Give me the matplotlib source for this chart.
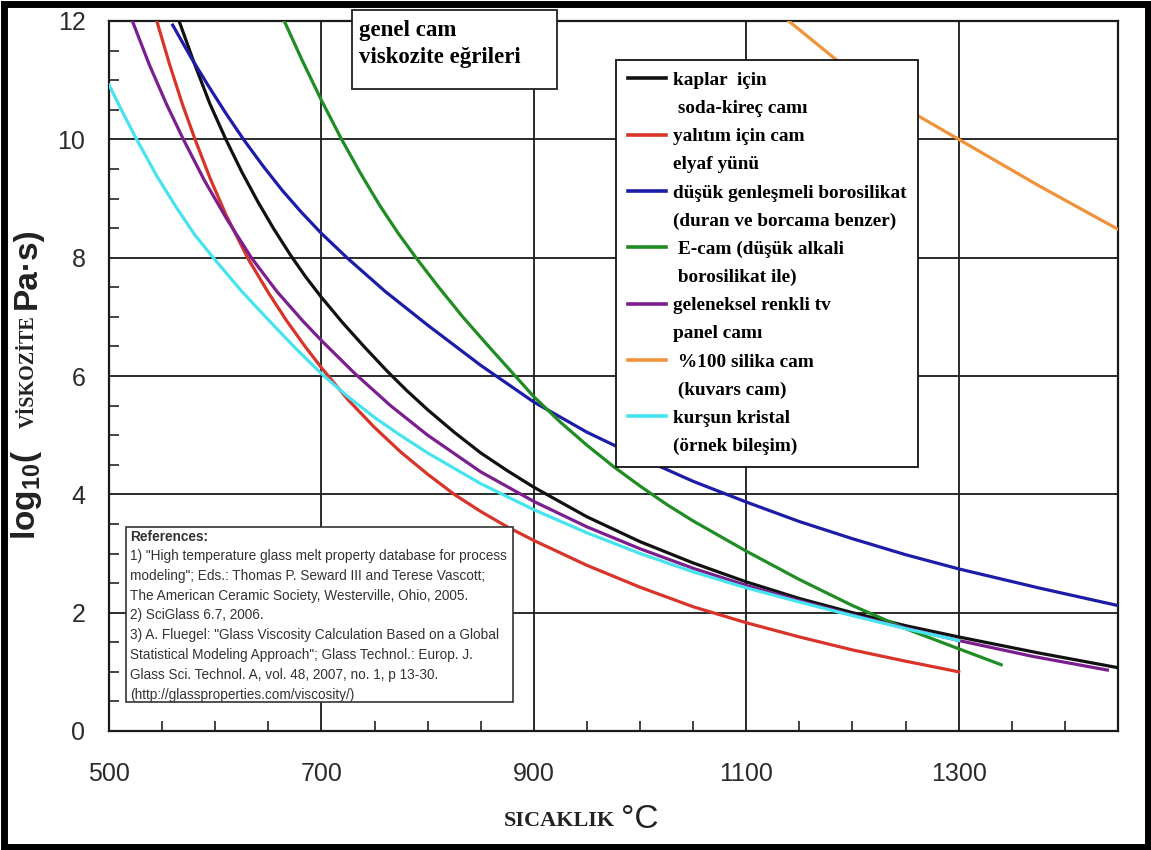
import matplotlib
matplotlib.use('Agg')
import matplotlib.pyplot as plt
from matplotlib.patches import Rectangle
from matplotlib.lines import Line2D
from matplotlib.ticker import MultipleLocator

plt.rcParams['font.family'] = ['Liberation Sans', 'DejaVu Sans']
plt.rcParams['mathtext.fontset'] = 'custom'
plt.rcParams['mathtext.rm'] = 'Liberation Sans'
plt.rcParams['mathtext.bf'] = 'Liberation Sans:bold'

# okunan eğri değerleri (sıcaklık °C, log10 viskozite)
soda_x = [566, 580, 595, 610, 625, 640, 655, 671, 685, 700, 720, 740, 762, 780, 800, 825, 850, 875, 900,
          950, 1000, 1050, 1100, 1150, 1200, 1250, 1300, 1375, 1450]
soda_y = [12.0, 11.3, 10.6, 10.0, 9.45, 8.95, 8.49, 8.04, 7.68, 7.33, 6.9, 6.5, 6.08, 5.76, 5.43, 5.05, 4.7, 4.4, 4.12,
          3.62, 3.2, 2.84, 2.52, 2.24, 2.0, 1.78, 1.59, 1.32, 1.07]

yun_x = [545, 557, 569, 581, 595, 610, 631, 650, 667, 685, 700, 725, 750, 775, 800, 825, 850, 875, 900,
         950, 1000, 1050, 1100, 1150, 1200, 1250, 1300]
yun_y = [12.0, 11.27, 10.6, 10.0, 9.35, 8.73, 7.98, 7.41, 6.94, 6.49, 6.14, 5.6, 5.13, 4.71, 4.34, 4.0, 3.71, 3.45, 3.22,
         2.8, 2.43, 2.1, 1.83, 1.59, 1.37, 1.18, 1.0]

boro_x = [560, 577, 593, 610, 627, 645, 663, 681, 700, 724, 760, 800, 850, 900, 950, 1000, 1050, 1100,
          1150, 1200, 1250, 1300, 1375, 1450]
boro_y = [11.93, 11.39, 10.92, 10.44, 9.99, 9.55, 9.14, 8.77, 8.41, 8.0, 7.43, 6.86, 6.18, 5.56, 5.05, 4.62, 4.22, 3.87,
          3.54, 3.25, 2.98, 2.74, 2.42, 2.12]

ecam_x = [665, 682, 700, 719, 737, 755, 772, 789, 810, 833, 856, 880, 900, 925, 950, 975, 1000, 1025, 1050,
          1100, 1150, 1200, 1250, 1300, 1340]
ecam_y = [12.0, 11.33, 10.66, 10.0, 9.42, 8.88, 8.42, 8.0, 7.51, 7.0, 6.53, 6.05, 5.65, 5.22, 4.83, 4.47, 4.14, 3.83, 3.55,
          3.04, 2.56, 2.12, 1.73, 1.39, 1.12]

tv_x = [522, 538, 554, 570, 590, 611, 634, 658, 683, 700, 731, 765, 800, 850, 900, 950, 1000, 1050, 1100,
        1150, 1200, 1250, 1300, 1370, 1440]
tv_y = [12.0, 11.26, 10.6, 10.0, 9.3, 8.65, 8.0, 7.43, 6.92, 6.6, 6.05, 5.5, 5.0, 4.38, 3.88, 3.45, 3.08, 2.75, 2.46,
        2.2, 1.96, 1.74, 1.53, 1.26, 1.03]

silika_x = [1140, 1200, 1250, 1300, 1375, 1450]
silika_y = [12.0, 11.12, 10.52, 10.0, 9.22, 8.48]

kristal_x = [500, 513, 526, 545, 563, 581, 600, 625, 650, 675, 700, 725, 750, 775, 800, 850, 900, 950, 1000,
             1050, 1100, 1150, 1200, 1250, 1300]
kristal_y = [10.92, 10.45, 10.0, 9.38, 8.86, 8.38, 7.96, 7.43, 6.95, 6.48, 6.04, 5.65, 5.3, 4.99, 4.7, 4.18, 3.74, 3.35,
             3.0, 2.69, 2.42, 2.18, 1.95, 1.73, 1.53]

labels_1 = ['kaplar  için', 'yalıtım için cam', 'düşük genleşmeli borosilikat', ' E-cam (düşük alkali',
            'geleneksel renkli tv', ' %100 silika cam', 'kurşun kristal']
labels_2 = [' soda-kireç camı', 'elyaf yünü', '(duran ve borcama benzer)', ' borosilikat ile)',
            'panel camı', ' (kuvars cam)', '(örnek bileşim)']
colors = ['#111111', '#d8342a', '#1c1ca8', '#1f8c24', '#7b1f8e', '#f0923a', '#47e3ef']

x_ticks = [500, 700, 900, 1100, 1300]
y_ticks = [0, 2, 4, 6, 8, 10, 12]

refs = ('1) "High temperature glass melt property database for process\n'
        'modeling"; Eds.: Thomas P. Seward III and Terese Vascott;\n'
        'The American Ceramic Society, Westerville, Ohio, 2005.\n'
        '2) SciGlass 6.7, 2006.\n'
        '3) A. Fluegel: "Glass Viscosity Calculation Based on a Global\n'
        'Statistical Modeling Approach"; Glass Technol.: Europ. J.\n'
        'Glass Sci. Technol. A, vol. 48, 2007, no. 1, p 13-30.\n'
        '(http://glassproperties.com/viscosity/)')

W, H = 1151, 850
fig = plt.figure(figsize=(W / 100, H / 100), dpi=100)
ax = fig.add_axes([109 / W, 1 - 731 / H, 1009 / W, 710 / H])

series = [(soda_x, soda_y), (yun_x, yun_y), (boro_x, boro_y), (ecam_x, ecam_y),
          (tv_x, tv_y), (silika_x, silika_y), (kristal_x, kristal_y)]
for (xs, ys), c in zip(series, colors):
    ax.plot(xs, ys, color=c, lw=2.3, solid_joinstyle='round', zorder=3)

ax.set_xlim(500, 1450)
ax.set_ylim(0, 12)
ax.set_xticks(x_ticks)
ax.set_yticks(y_ticks)
ax.xaxis.set_minor_locator(MultipleLocator(50))
ax.yaxis.set_minor_locator(MultipleLocator(0.5))
ax.tick_params(which='major', length=0, labelsize=18, labelcolor='#2b2b2b')
ax.tick_params(axis='x', which='major', pad=22)
ax.tick_params(axis='y', which='major', pad=17)
ax.tick_params(which='minor', direction='in', length=7, width=1.2, color='#222')
ax.grid(True, which='major', color='#1a1a1a', lw=1.3, zorder=1)
ax.set_axisbelow(True)
for s in ax.spines.values():
    s.set_linewidth(1.6)
    s.set_color('#1a1a1a')

# lejant: her girdinin ilk satırında çizgi
handles, labels = [], []
for c, l1, l2 in zip(colors, labels_1, labels_2):
    handles.append(Line2D([], [], color=c, lw=2.6))
    labels.append(l1)
    handles.append(Line2D([], [], color='none'))
    labels.append(l2)
leg = ax.legend(handles, labels, loc='upper left',
                bbox_to_anchor=((616 - 109) / 1009, (731 - 60) / 710),
                prop={'family': 'Liberation Serif', 'weight': 'bold', 'size': 13.9},
                handlelength=2.0, handletextpad=0.35, labelspacing=0.55,
                borderpad=0.6, borderaxespad=0, fancybox=False,
                edgecolor='#111', framealpha=1)
leg.get_frame().set_linewidth(1.3)
leg.set_zorder(5)

# başlık kutusu
fig.add_artist(Rectangle((352 / W, 1 - 89 / H), 205 / W, 79 / H, transform=fig.transFigure,
                         facecolor='white', edgecolor='#222', lw=1.3, zorder=4))
fig.text(359 / W, 1 - 36 / H, 'genel cam', family='Liberation Serif', weight='bold',
         size=16.5, va='baseline', zorder=5)
fig.text(359 / W, 1 - 63 / H, 'viskozite eğrileri', family='Liberation Serif', weight='bold',
         size=16.5, va='baseline', zorder=5)

# kaynaklar kutusu
fig.add_artist(Rectangle((126 / W, 1 - 702 / H), 387 / W, 175 / H, transform=fig.transFigure,
                         facecolor='white', edgecolor='#333', lw=1.2, zorder=4))
fig.text(130 / W, 1 - 530 / H, 'References:', weight='bold', size=9.8, color='#333',
         va='top', zorder=5)
fig.text(130 / W, 1 - 549 / H, refs, size=9.8, color='#333', va='top',
         linespacing=1.53, zorder=5)

# eksen etiketleri
fig.text(27 / W, 1 - 495 / H, r'log$_{\mathbf{10}}$(', weight='bold', size=24,
         rotation=90, ha='center', va='center', color='#222')
fig.text(29 / W, 1 - 372 / H, 'VİSKOZİTE', family='Liberation Serif', weight='bold',
         size=14.5, rotation=90, ha='center', va='center', color='#222')
fig.text(27 / W, 1 - 268 / H, 'Pa·s)', weight='bold', size=24,
         rotation=90, ha='center', va='center', color='#222')
fig.text(615 / W, 1 - 826 / H, 'SICAKLIK', family='Liberation Serif', weight='bold',
         size=16, ha='right', va='baseline', color='#222')
fig.text(621 / W, 1 - 828 / H, '°C', size=24, ha='left', va='baseline', color='#222')

# dış çerçeve
fig.add_artist(Rectangle((3.5 / W, 3.5 / H), 1 - 7 / W, 1 - 7 / H, transform=fig.transFigure,
                         fill=False, edgecolor='black', lw=5, zorder=10))

fig.savefig('out.png', dpi=100)
